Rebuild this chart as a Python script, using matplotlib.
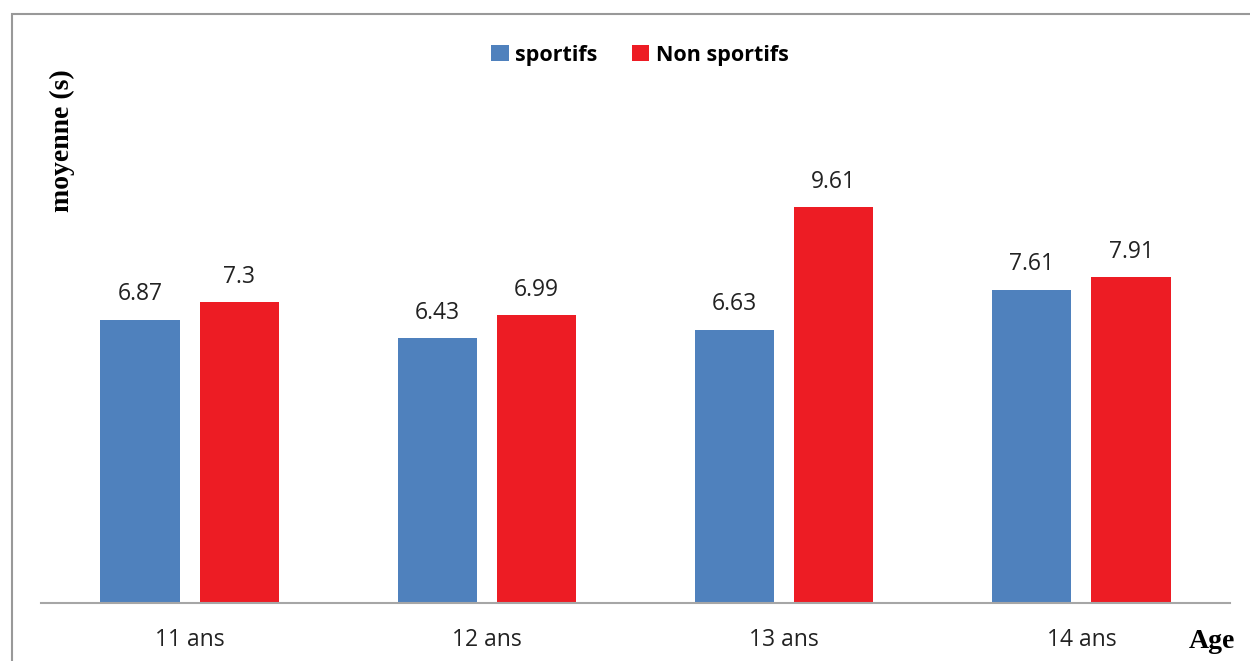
import matplotlib.pyplot as plt
import numpy as np
from matplotlib.patches import Rectangle

ages = ['11 ans', '12 ans', '13 ans', '14 ans']
sportifs = [6.87, 6.43, 6.63, 7.61]
non_sportifs = [7.3, 6.99, 9.61, 7.91]
value_labels_s = ['6.87', '6.43', '6.63', '7.61']
value_labels_n = ['7.3', '6.99', '9.61', '7.91']

blue = '#4F81BD'
red = '#ED1C24'


def main():
    fig = plt.figure(figsize=(12.5, 6.61), dpi=100)
    ax = fig.add_axes([41 / 1250, 58 / 661, 1189 / 1250, 494 / 661])

    x = np.arange(len(ages))
    w = 0.266
    off = 0.167
    ax.bar(x - off, sportifs, w, color=blue, label='sportifs')
    ax.bar(x + off, non_sportifs, w, color=red, label='Non sportifs')

    for xi, v, t in zip(x - off, sportifs, value_labels_s):
        ax.annotate(t, (xi, v), xytext=(0, 18.5), textcoords='offset points',
                    ha='center', va='center', fontsize=16.5, family='Open Sans',
                    color='#222222')
    for xi, v, t in zip(x + off, non_sportifs, value_labels_n):
        ax.annotate(t, (xi, v), xytext=(0, 18.5), textcoords='offset points',
                    ha='center', va='center', fontsize=16.5, family='Open Sans',
                    color='#222222')

    ax.set_xlim(-0.5, 3.5)
    ax.set_ylim(0, 12)
    ax.set_xticks(x)
    ax.set_xticklabels(ages, fontsize=16.5, family='Open Sans', color='#222222')
    ax.tick_params(axis='x', length=0, pad=18)
    ax.set_yticks([])
    for s in ['top', 'right', 'left']:
        ax.spines[s].set_visible(False)
    ax.spines['bottom'].set_color('#a6a6a6')
    ax.spines['bottom'].set_linewidth(1.5)

    ax.legend(loc='center', bbox_to_anchor=(640 / 1250, 1 - 55 / 661),
              bbox_transform=fig.transFigure, ncol=2, frameon=False,
              handlelength=0.8, handleheight=0.8, handletextpad=0.3,
              columnspacing=1.6,
              prop={'family': 'Open Sans', 'weight': 'bold', 'size': 15.5})

    fig.text(62 / 1250, 1 - 141 / 661, 'moyenne (s)', rotation=90,
             ha='center', va='center', fontsize=20, fontweight='bold',
             family='Liberation Serif')
    fig.text(1212 / 1250, 1 - 641 / 661, 'Age', ha='center', va='center',
             fontsize=20, fontweight='bold', family='Liberation Serif')

    # outer frame of the chart box
    fig.patches.append(Rectangle((12 / 1250, -0.1), 1.5, 1.1 - 14 / 661,
                                 transform=fig.transFigure, fill=False,
                                 edgecolor='#999999', linewidth=1.5))

    fig.savefig('out.png', dpi=100)


main()
